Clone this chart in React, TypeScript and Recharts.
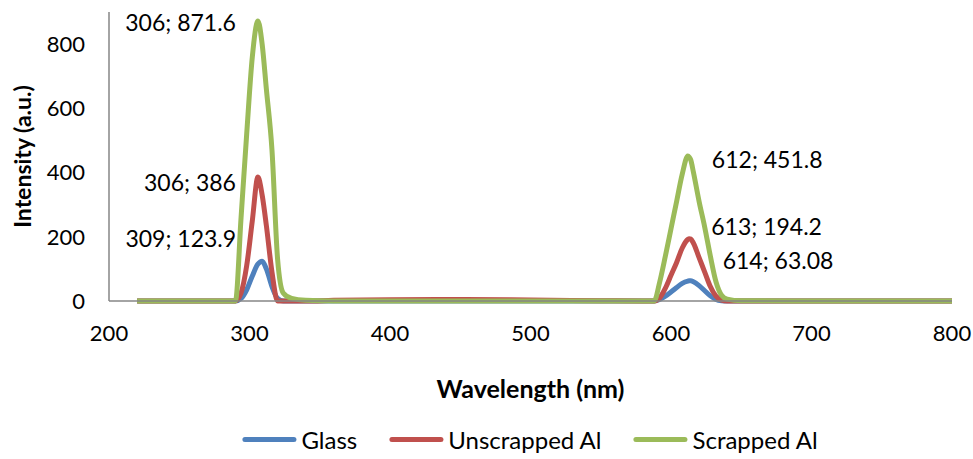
import { CartesianGrid, Line, LineChart, XAxis, YAxis } from "recharts";

const wavelengths = [
  220, 250, 280, 290, 294, 298, 302, 306, 309, 312, 316, 320, 324, 330, 340, 360, 400, 450, 500, 550,
  580, 588, 592, 596, 600, 604, 608, 612, 613, 614, 616, 620, 624, 628, 632, 636, 640, 650, 700, 750, 800,
];
const glass = [
  0, 0, 0, 0, 8, 35, 78, 115, 123.9, 100, 45, 8, 0, 0, 0, 0, 0, 0, 0, 0,
  0, 0, 5, 15, 28, 42, 55, 62, 63, 63.08, 60, 48, 32, 16, 5, 1, 0, 0, 0, 0, 0,
];
const unscrapped = [
  0, 0, 0, 0, 25, 110, 250, 386, 330, 235, 90, 0, 0, 0, 0, 2, 4, 5, 3, 1,
  0, 0, 10, 40, 80, 120, 165, 192, 194.2, 193, 180, 135, 90, 45, 15, 3, 0, 0, 0, 0, 0,
];
const scrapped = [
  0, 0, 0, 0, 260, 520, 760, 871.6, 800, 660, 470, 130, 25, 8, 2, 0, 0, 0, 0, 0,
  0, 0, 60, 140, 225, 310, 395, 451.8, 448, 440, 400, 310, 230, 140, 60, 18, 6, 1, 0, 0, 0,
];
const xTicks = [200, 300, 400, 500, 600, 700, 800];
const yTicks = [0, 200, 400, 600, 800];

const series = [
  { key: "glass", name: "Glass", color: "#4F81BD" },
  { key: "unscrapped", name: "Unscrapped Al", color: "#C0504D" },
  { key: "scrapped", name: "Scrapped Al", color: "#9BBB59" },
];

// where each peak label sits relative to its point
const peakLabels = [
  { key: "scrapped", wavelength: 306, dx: -22, dy: 1, anchor: "end" },
  { key: "unscrapped", wavelength: 306, dx: -22, dy: 5, anchor: "end" },
  { key: "glass", wavelength: 309, dx: -26, dy: -23, anchor: "end" },
  { key: "scrapped", wavelength: 612, dx: 24, dy: 3, anchor: "start" },
  { key: "unscrapped", wavelength: 613, dx: 22, dy: -13, anchor: "start" },
  { key: "glass", wavelength: 614, dx: 32, dy: -21, anchor: "start" },
];

const data = wavelengths.map((wavelength, i) => ({
  wavelength,
  glass: glass[i],
  unscrapped: unscrapped[i],
  scrapped: scrapped[i],
}));

const font = "Lato, 'Open Sans', sans-serif";

const peakLabel = (key: string) => (props: any) => {
  const { x, y, index, value } = props;
  const wl = wavelengths[index];
  const spec = peakLabels.find((p) => p.key === key && p.wavelength === wl);
  if (!spec) return <g key={`${key}-${index}`} />;
  return (
    <text
      key={`${key}-${index}`}
      x={x + spec.dx}
      y={y + spec.dy}
      textAnchor={spec.anchor}
      dominantBaseline="central"
      fontSize={23}
      fontFamily={font}
      fill="#000"
    >
      {`${wl}; ${value}`}
    </text>
  );
};

export default function App() {
  return (
    <div style={{ position: "relative", width: 973, height: 459, fontFamily: font }}>
      <style>{`body { margin: 0; }`}</style>
      <LineChart
        width={973}
        height={459}
        data={data}
        margin={{ top: 12, right: 21, left: 0, bottom: 58 }}
      >
        <CartesianGrid stroke="none" />
        <XAxis
          dataKey="wavelength"
          type="number"
          domain={[200, 800]}
          ticks={xTicks}
          tickLine={false}
          tickSize={0}
          tickMargin={24}
          height={100}
          stroke="#868686"
          strokeWidth={1.5}
          tick={{ fill: "#000", fontSize: 22, fontFamily: font }}
          label={{
            value: "Wavelength (nm)",
            position: "insideBottom",
            offset: 3,
            style: { fontSize: 25, fontWeight: 700, fill: "#000", fontFamily: font },
          }}
        />
        <YAxis
          domain={[0, 900]}
          ticks={yTicks}
          tickLine={false}
          tickSize={0}
          tickMargin={24}
          width={109}
          stroke="#868686"
          strokeWidth={1.5}
          tick={{ fill: "#000", fontSize: 22, fontFamily: font }}
          label={{
            value: "Intensity (a.u.)",
            angle: -90,
            position: "insideLeft",
            offset: 23,
            style: { fontSize: 23, fontWeight: 700, fill: "#000", fontFamily: font, textAnchor: "middle" },
          }}
        />
        {series.map((s) => (
          <Line
            key={s.key}
            type="monotone"
            dataKey={s.key}
            name={s.name}
            stroke={s.color}
            strokeWidth={5}
            dot={false}
            activeDot={false}
            isAnimationActive={false}
            label={peakLabel(s.key)}
          />
        ))}
      </LineChart>
      <div
        style={{
          position: "absolute",
          left: 530,
          top: 425,
          transform: "translateX(-50%)",
          whiteSpace: "nowrap",
          display: "flex",
          gap: 32,
          fontSize: 24,
          color: "#000",
        }}
      >
        {series.map((s) => (
          <div key={s.key} style={{ display: "flex", alignItems: "center", gap: 5 }}>
            <span style={{ width: 54, height: 5, borderRadius: 3, background: s.color, display: "inline-block" }} />
            <span>{s.name}</span>
          </div>
        ))}
      </div>
    </div>
  );
}
